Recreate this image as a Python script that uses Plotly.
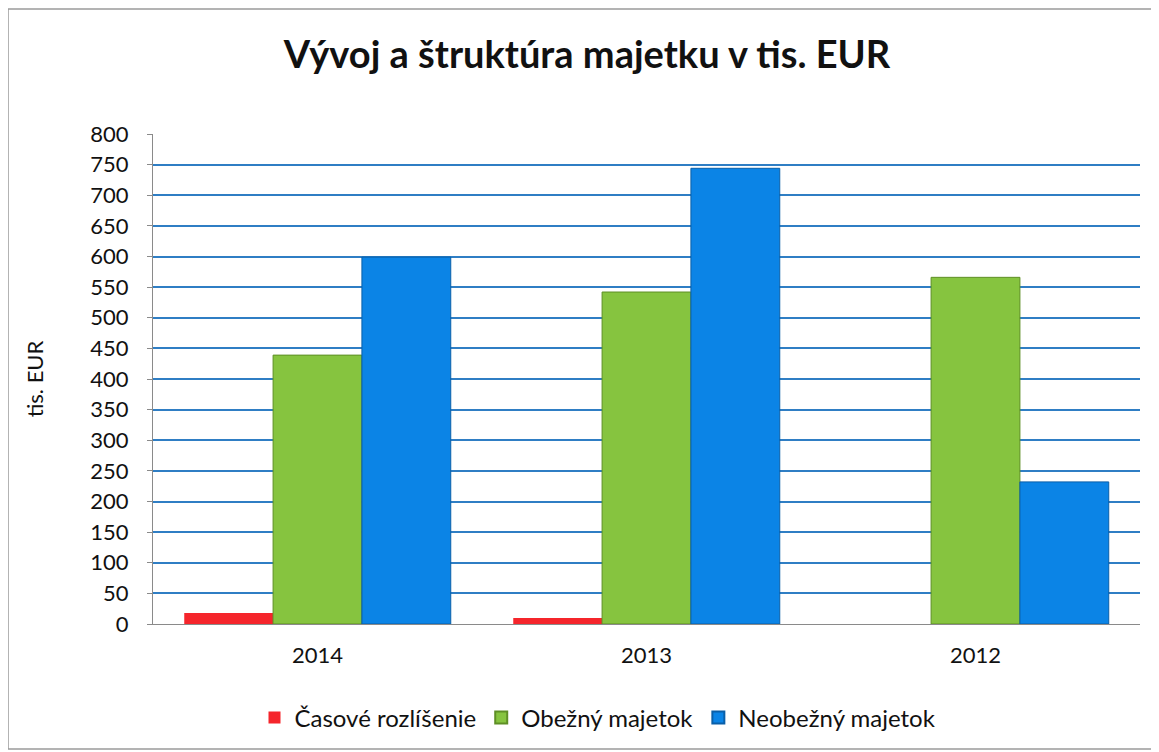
import plotly.graph_objects as go

years = ["2014", "2013", "2012"]
casove = [18, 10, 0]
obezny = [439, 542, 566]
neobezny = [599, 744, 232]
series_names = ["Časové rozlíšenie", "Obežný majetok", "Neobežný majetok"]
colors = ["#F5252B", "#86C43F", "#0B84E6"]
edges = ["#F5252B", "#5E8F25", "#0A5FA8"]
edge_w = [0, 1, 1]
yticks = list(range(0, 801, 50))

# page has an 8px body margin; work in page coordinates and convert
OFF = 8
W, H = 1159 - OFF, 752 - OFF
L, R, T, B = 153 - OFF, 1159 - 1140, 134 - OFF, 752 - 624
FONT = "Lato"

fig = go.Figure()
for name, vals, c, e, ew in zip(series_names, [casove, obezny, neobezny], colors, edges, edge_w):
    fig.add_trace(go.Bar(x=years, y=vals, name=name, marker=dict(color=c, line=dict(color=e, width=ew))))

pw = W - L - R
ph = H - T - B
def px(xpage):
    return (xpage - OFF - L) / pw
def py(ypage):
    return (H - B - (ypage - OFF)) / ph

fig.update_layout(
    width=W, height=H,
    margin=dict(l=L, r=R, t=T, b=B),
    paper_bgcolor="white", plot_bgcolor="white",
    barmode="group", bargap=0.19, bargroupgap=0,
    title=dict(text="<b>Vývoj a štruktúra majetku v tis. EUR</b>", x=(587 - OFF) / W, xref="container",
               xanchor="center",
               y=1 - (55 - OFF) / H, yanchor="middle", font=dict(family=FONT, size=38, color="#111111")),
    font=dict(family=FONT, size=22, color="#111111"),
    legend=dict(orientation="h", x=(598 - OFF) / W, xanchor="center", xref="container",
                y=1 - (718 - OFF) / H, yref="container", yanchor="middle",
                font=dict(family=FONT, size=24), itemsizing="constant",
                traceorder="normal", itemwidth=30),
    yaxis=dict(range=[0, 800], tickvals=yticks, showgrid=True, gridcolor="#2F7EC4", gridwidth=1.5,
               showline=True, linecolor="#8A8A8A", linewidth=1, ticks="outside", ticklen=5,
               tickcolor="#8A8A8A", zeroline=False, ticklabelstandoff=14,
               tickfont=dict(size=22),
               title=dict(text="tis. EUR", font=dict(family=FONT, size=22), standoff=40)),
    xaxis=dict(showline=True, linecolor="#8A8A8A", linewidth=1, ticks="", tickfont=dict(size=22),
               ticklabelstandoff=12),
    shapes=[dict(type="rect", xref="paper", yref="paper", x0=px(8), x1=px(1157), y0=py(749), y1=py(9),
                 line=dict(color="#9A9A9A", width=1.5), fillcolor="rgba(0,0,0,0)", layer="below")],
)

fig.write_html("out.html")
